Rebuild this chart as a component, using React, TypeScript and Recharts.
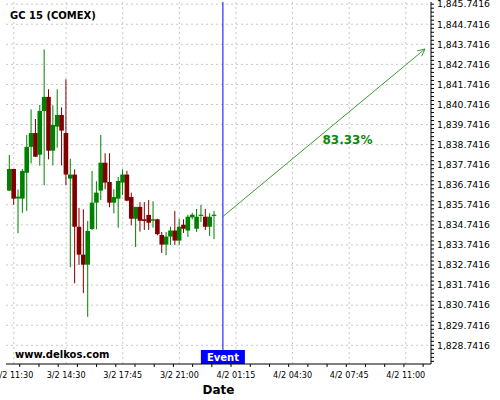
import React from 'react';
import { ComposedChart, Bar, XAxis, YAxis, ReferenceLine, ReferenceDot, CartesianGrid } from 'recharts';

const opens = [1836.45, 1837.53, 1836.06, 1836.05, 1837.34, 1838.63, 1839.32, 1838.24, 1840.42, 1841.12, 1838.44, 1839.64, 1840.22, 1839.32, 1837.05, 1837.25, 1834.65, 1833.26, 1832.76, 1834.54, 1835.85, 1836.45, 1837.84, 1836.88, 1835.85, 1836.05, 1836.85, 1837.25, 1836.13, 1835.05, 1835.64, 1835.02, 1835.24, 1834.95, 1835.02, 1834.24, 1833.76, 1834.16, 1834.46, 1833.96, 1834.75, 1834.46, 1835.12, 1834.55, 1835.21, 1835.15, 1834.65, 1835.19];
const highs = [1838.23, 1837.53, 1836.51, 1837.53, 1839.22, 1840.50, 1840.02, 1840.72, 1843.49, 1841.50, 1840.70, 1841.50, 1840.60, 1842.00, 1838.04, 1837.51, 1835.59, 1835.52, 1834.94, 1837.43, 1836.92, 1839.22, 1838.31, 1838.31, 1836.52, 1837.13, 1837.51, 1837.44, 1836.35, 1835.64, 1835.88, 1835.88, 1835.98, 1835.92, 1835.05, 1834.39, 1834.39, 1834.65, 1835.44, 1835.04, 1835.02, 1835.25, 1835.35, 1835.54, 1835.74, 1835.54, 1835.32, 1835.44];
const lows = [1836.43, 1835.74, 1834.33, 1835.34, 1835.44, 1837.81, 1838.13, 1837.69, 1836.72, 1838.01, 1837.71, 1838.59, 1837.71, 1836.72, 1832.63, 1831.83, 1832.75, 1831.34, 1830.16, 1834.49, 1834.52, 1835.98, 1836.52, 1835.62, 1835.32, 1834.60, 1836.23, 1835.92, 1834.72, 1833.64, 1834.41, 1834.49, 1834.49, 1834.60, 1834.22, 1833.34, 1833.23, 1833.74, 1833.74, 1833.73, 1834.34, 1834.14, 1835.02, 1834.39, 1834.89, 1834.49, 1834.19, 1834.03];
const closes = [1837.53, 1836.05, 1836.15, 1837.43, 1838.63, 1839.32, 1838.14, 1840.42, 1841.12, 1838.44, 1839.72, 1840.22, 1839.44, 1837.25, 1837.25, 1834.65, 1833.26, 1832.76, 1834.44, 1835.85, 1836.35, 1837.84, 1836.85, 1835.85, 1836.13, 1836.93, 1837.25, 1835.95, 1835.05, 1835.64, 1834.95, 1834.94, 1834.85, 1835.02, 1834.28, 1833.76, 1834.16, 1834.46, 1833.96, 1834.65, 1834.55, 1835.15, 1835.25, 1835.15, 1835.25, 1834.65, 1835.15, 1835.25];

const majorXIdx = [1, 13, 26, 39, 52, 65, 78, 91];
const majorXLabels = ['3/2 11:30', '3/2 14:30', '3/2 17:45', '3/2 21:00', '4/2 01:15', '4/2 04:30', '4/2 07:45', '4/2 11:00'];
const minorXTicks = [2.36, 6.77, 11.18, 15.59, 20, 24.41, 28.82, 33.23, 37.64, 42.05, 46.46, 50.87, 55.28, 59.69, 64.1, 68.51, 72.92, 77.33, 81.74, 86.15, 90.56, 94.97];
const majorY = [1828.7416, 1829.7416, 1830.7416, 1831.7416, 1832.7416, 1833.7416, 1834.7416, 1835.7416, 1836.7416, 1837.7416, 1838.7416, 1839.7416, 1840.7416, 1841.7416, 1842.7416, 1843.7416, 1844.7416, 1845.7416];

const eventIdx = 49;
const arrowStart = { x: 49, y: 1835.16 };
const arrowEnd = { x: 95.4, y: 1843.51 };
const pctLabel = { x: 77.6, y: 1838.97, text: '83.33%' };

const X_DOMAIN: [number, number] = [-0.8, 96.78];
const Y_DOMAIN: [number, number] = [1827.81, 1845.85];

const data = opens.map((o, i) => ({ i, o, h: highs[i], l: lows[i], c: closes[i], range: [lows[i], highs[i]] }));

const yTicks: number[] = [];
for (let v = 1827.9416; v <= 1845.76; v += 0.2) yTicks.push(Math.round(v * 10000) / 10000);

const xTicks = [...majorXIdx, ...minorXTicks].sort((a, b) => a - b);

const FONT = 'DejaVu Sans';
const GREEN = '#008000';
const RED = '#800000';

const Candle = (props: any) => {
  const { x, y, width, height, payload } = props;
  if (!payload) return null;
  const { o, h, l, c } = payload;
  const top = Math.min(y, y + height);
  const hh = Math.abs(height);
  const cx = x + width / 2;
  const ppu = hh / (h - l);
  const bTop = top + (h - Math.max(o, c)) * ppu;
  const bBot = top + (h - Math.min(o, c)) * ppu;
  const color = c >= o ? GREEN : RED;
  return (
    <g>
      <line x1={cx} x2={cx} y1={top} y2={top + hh} stroke={color} strokeWidth={1} />
      <rect x={cx - 2.3} y={bTop} width={4.6} height={Math.max(bBot - bTop, 1.2)} fill={color} />
    </g>
  );
};

const XTick = (props: any) => {
  const { x, y, payload } = props;
  const idx = majorXIdx.findIndex((m) => Math.abs(m - payload.value) < 1e-6);
  if (idx >= 0) {
    return (
      <text x={x} y={y + 14} textAnchor="middle" fontSize={8.1} fontFamily={FONT} fill="#000">
        {majorXLabels[idx]}
      </text>
    );
  }
  return <line x1={x} x2={x} y1={y} y2={y + 3} stroke="#000" strokeWidth={1} />;
};

const YTick = (props: any) => {
  const { x, y, payload } = props;
  const v = payload.value;
  const major = majorY.some((m) => Math.abs(m - v) < 1e-6);
  return (
    <g>
      <line x1={x} x2={x + 3} y1={y} y2={y} stroke="#000" strokeWidth={1} />
      {major && (
        <text x={x + 6} y={y + 3.3} fontSize={9.25} fontFamily={FONT} fill="#000">
          {v.toLocaleString('en-US', { minimumFractionDigits: 4, maximumFractionDigits: 4 })}
        </text>
      )}
    </g>
  );
};

const EventLabel = (props: any) => {
  const vb = props.viewBox || {};
  const cx = vb.x;
  const bottom = vb.y + vb.height;
  return (
    <g>
      <rect x={cx - 22} y={bottom - 14} width={44} height={14} fill="#0000ff" />
      <text x={cx} y={bottom - 3} textAnchor="middle" fontSize={10} fontWeight="bold" fontFamily={FONT} fill="#fff">
        Event
      </text>
    </g>
  );
};

const ArrowShape = (props: any) => {
  const { x1, y1, x2, y2 } = props;
  const a = Math.atan2(y2 - y1, x2 - x1);
  const len = 8;
  const spread = 0.45;
  const p1 = { x: x2 - len * Math.cos(a - spread), y: y2 - len * Math.sin(a - spread) };
  const p2 = { x: x2 - len * Math.cos(a + spread), y: y2 - len * Math.sin(a + spread) };
  return (
    <g>
      <line x1={x1} y1={y1} x2={x2} y2={y2} stroke="#3a9a3a" strokeWidth={1} />
      <polyline points={`${p1.x},${p1.y} ${x2},${y2} ${p2.x},${p2.y}`} fill="none" stroke="#3a9a3a" strokeWidth={1} />
    </g>
  );
};

export default function App() {
  return (
    <div style={{ position: 'absolute', left: 0, top: 0, width: 500, height: 400, background: '#fff' }}>
      <ComposedChart width={500} height={400} data={data} margin={{ top: 2, right: 0, bottom: 0, left: 6 }}>
        <CartesianGrid
          stroke="#c8c8c8"
          strokeDasharray="2 3"
          horizontalValues={majorY}
          verticalValues={majorXIdx}
        />
        <XAxis
          dataKey="i"
          type="number"
          domain={X_DOMAIN}
          allowDataOverflow
          ticks={xTicks}
          interval={0}
          tick={<XTick />}
          tickLine={false}
          tickSize={0}
          tickMargin={0}
          height={36}
          axisLine={{ stroke: '#000' }}
          label={{ value: 'Date', position: 'insideBottom', offset: 6, fontSize: 12, fontWeight: 'bold', fontFamily: FONT, fill: '#000' }}
        />
        <YAxis
          orientation="right"
          type="number"
          domain={Y_DOMAIN}
          allowDataOverflow
          ticks={yTicks}
          interval={0}
          tick={<YTick />}
          tickLine={false}
          tickSize={0}
          tickMargin={0}
          width={69}
          axisLine={{ stroke: '#000' }}
        />
        <Bar dataKey="range" shape={<Candle />} barSize={4} isAnimationActive={false} />
        <ReferenceLine x={eventIdx} stroke="#0000ff" strokeWidth={1} label={<EventLabel />} />
        <ReferenceLine segment={[arrowStart, arrowEnd]} shape={(p: any) => <ArrowShape {...p} />} />
        <ReferenceDot
          x={pctLabel.x}
          y={pctLabel.y}
          r={0}
          fill="none"
          stroke="none"
          label={{ value: pctLabel.text, position: 'center', fontSize: 12, fontWeight: 'bold', fontFamily: FONT, fill: '#0a870a' }}
        />
      </ComposedChart>
      <svg width={500} height={400} style={{ position: 'absolute', left: 0, top: 0, pointerEvents: 'none' }}>
        <text x={10} y={19} fontSize={10} fontWeight="bold" fontFamily={FONT} fill="#000">GC 15 (COMEX)</text>
        <text x={15} y={357.5} fontSize={10} fontWeight="bold" fontFamily={FONT} fill="#000">www.delkos.com</text>
      </svg>
    </div>
  );
}
